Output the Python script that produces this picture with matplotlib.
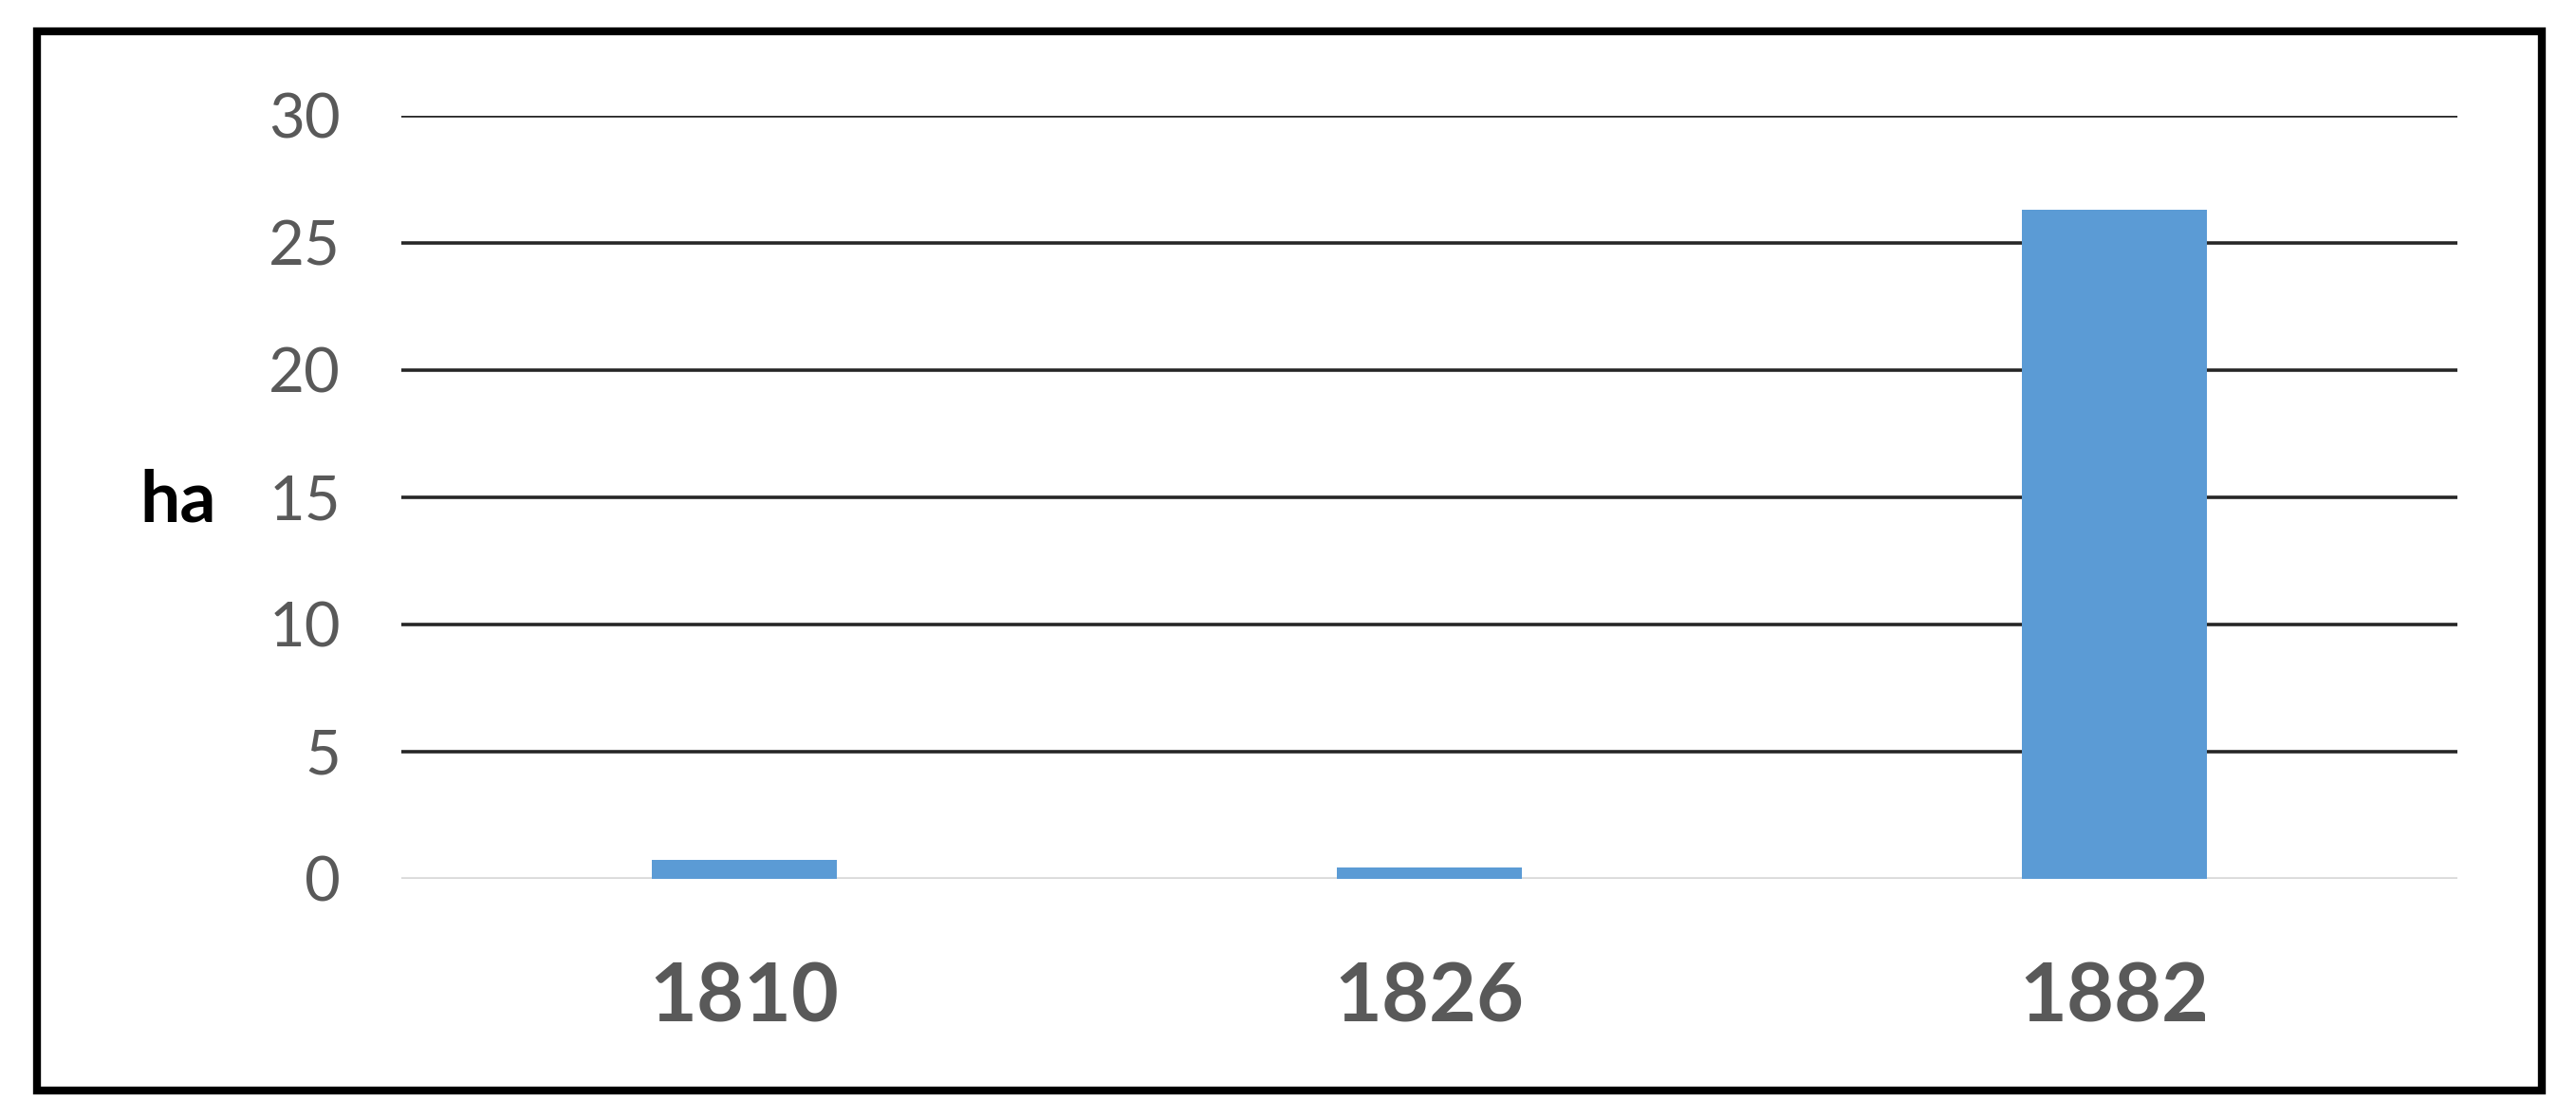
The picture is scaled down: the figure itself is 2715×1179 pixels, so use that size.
"""Bar chart of area (ha) per survey year, boxed figure."""

import matplotlib
matplotlib.use("Agg")
import matplotlib.pyplot as plt
from matplotlib.patches import Rectangle

years = ["1810", "1826", "1882"]
area_ha = [0.75, 0.45, 26.3]
y_ticks = [0, 5, 10, 15, 20, 25, 30]

BAR_COLOR = "#5B9BD5"
TEXT_GRAY = "#595959"

plt.rcParams["font.family"] = ["Lato", "DejaVu Sans"]

W, H = 2715, 1179
fig = plt.figure(figsize=(W / 100, H / 100), dpi=100)
ax = fig.add_axes([423 / W, 1 - 926 / H, (2590 - 423) / W, (926 - 122) / H])

x = range(len(years))
ax.bar(x, area_ha, width=0.27, color=BAR_COLOR, zorder=3)

ax.set_xlim(-0.5, len(years) - 0.5)
ax.set_ylim(0, 30)
ax.set_yticks(y_ticks)
ax.set_xticks(list(x))
ax.set_xticklabels(years, fontsize=62, fontweight="bold", color=TEXT_GRAY)
ax.tick_params(axis="y", length=0, pad=46, labelsize=47, labelcolor=TEXT_GRAY)
ax.tick_params(axis="x", length=0, pad=62)

for v in y_ticks[1:]:
    ax.axhline(v, color="#262626", linewidth=2.6, zorder=1)
ax.axhline(0, color="#d9d9d9", linewidth=2.6, zorder=2)

for side in ax.spines.values():
    side.set_visible(False)

fig.text(188 / W, 1 - 528 / H, "ha", fontsize=54, fontweight="bold",
         color="black", ha="center", va="center")

fig.patches.append(Rectangle((39 / W, 1 - 1149 / H), (2679 - 39) / W, (1149 - 33) / H,
                             transform=fig.transFigure, fill=False,
                             edgecolor="black", linewidth=6))

fig.savefig("out.png", dpi=100)
